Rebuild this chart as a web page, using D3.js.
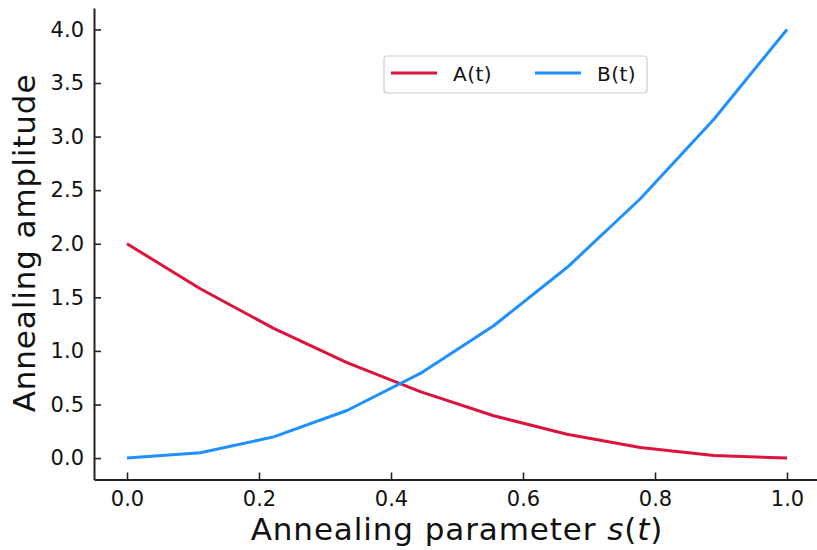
<!DOCTYPE html>
<html>
<head>
<meta charset="utf-8">
<script src="https://cdn.jsdelivr.net/npm/d3@7"></script>
<style>
  html, body { margin: 0; padding: 0; background: #fff; }
  svg { display: block; font-family: "DejaVu Sans", sans-serif; }
</style>
</head>
<body>
<svg id="chart" width="817" height="550"></svg>
<script>
// Annealing schedule samples
const sValues = [0, 0.1111, 0.2222, 0.3333, 0.4444, 0.5556, 0.6667, 0.7778, 0.8889, 1.0];
const aValues = [2.0, 1.58, 1.21, 0.89, 0.62, 0.395, 0.222, 0.099, 0.025, 0.0];
const bValues = [0.0, 0.049, 0.198, 0.444, 0.79, 1.235, 1.778, 2.42, 3.16, 4.0];
const xTicks = [0.0, 0.2, 0.4, 0.6, 0.8, 1.0];
const yTicks = [0.0, 0.5, 1.0, 1.5, 2.0, 2.5, 3.0, 3.5, 4.0];
const seriesNames = ["A(t)", "B(t)"];
const seriesColors = ["#DC143C", "#1E90FF"];

const svg = d3.select("#chart");
const plotLeft = 94, plotRight = 820, plotTop = 8, plotBottom = 479.5;

const x = d3.scaleLinear().domain([-0.05, 1.05]).range([plotLeft, plotRight]);
const y = d3.scaleLinear().domain([-0.2, 4.2]).range([plotBottom, plotTop]);

// Axes with inward ticks
const xAxis = d3.axisBottom(x).tickValues(xTicks).tickFormat(d3.format(".1f")).tickSizeInner(-7).tickSizeOuter(0).tickPadding(12);
const yAxis = d3.axisLeft(y).tickValues(yTicks).tickFormat(d3.format(".1f")).tickSizeInner(-7).tickSizeOuter(0).tickPadding(10);

const gx = svg.append("g").attr("transform", `translate(0,${plotBottom})`).call(xAxis);
const gy = svg.append("g").attr("transform", `translate(${plotLeft},0)`).call(yAxis);

[gx, gy].forEach(g => {
  g.select(".domain").attr("stroke", "#222").attr("stroke-width", 2);
  g.selectAll(".tick line").attr("stroke", "#222").attr("stroke-width", 1.6);
  g.selectAll(".tick text").attr("fill", "#111")
    .attr("font-size", 21)
    .style("font-size", "21px")
    .style("font-family", "DejaVu Sans");
});

// Series lines
const line = d3.line().x((d, i) => x(sValues[i])).y(d => y(d));
[aValues, bValues].forEach((vals, k) => {
  svg.append("path")
    .datum(vals)
    .attr("fill", "none")
    .attr("stroke", seriesColors[k])
    .attr("stroke-width", 3)
    .attr("stroke-linejoin", "round")
    .attr("d", line);
});

// Axis labels
svg.append("text")
  .attr("x", 457).attr("y", 540)
  .attr("text-anchor", "middle")
  .style("font-size", "31px").style("letter-spacing", "0.9px").attr("fill", "#111")
  .html('Annealing parameter <tspan font-style="italic">s</tspan>(<tspan font-style="italic">t</tspan>)');

svg.append("text")
  .attr("transform", "translate(35,243) rotate(-90)")
  .attr("text-anchor", "middle")
  .style("font-size", "31px").style("letter-spacing", "0.9px").attr("fill", "#111")
  .text("Annealing amplitude");

// Legend
const lg = svg.append("g");
lg.append("rect")
  .attr("x", 384).attr("y", 56).attr("width", 263).attr("height", 37)
  .attr("rx", 3).attr("fill", "#fff").attr("stroke", "#ccc").attr("stroke-width", 1.2);
const legendX = [391, 535];
seriesNames.forEach((name, k) => {
  lg.append("line")
    .attr("x1", legendX[k]).attr("x2", legendX[k] + 46)
    .attr("y1", 73).attr("y2", 73)
    .attr("stroke", seriesColors[k]).attr("stroke-width", 3);
  lg.append("text")
    .attr("x", legendX[k] + 62).attr("y", 81)
    .style("font-size", "20px").style("letter-spacing", "0.5px").attr("fill", "#111")
    .text(name);
});
</script>
</body>
</html>
